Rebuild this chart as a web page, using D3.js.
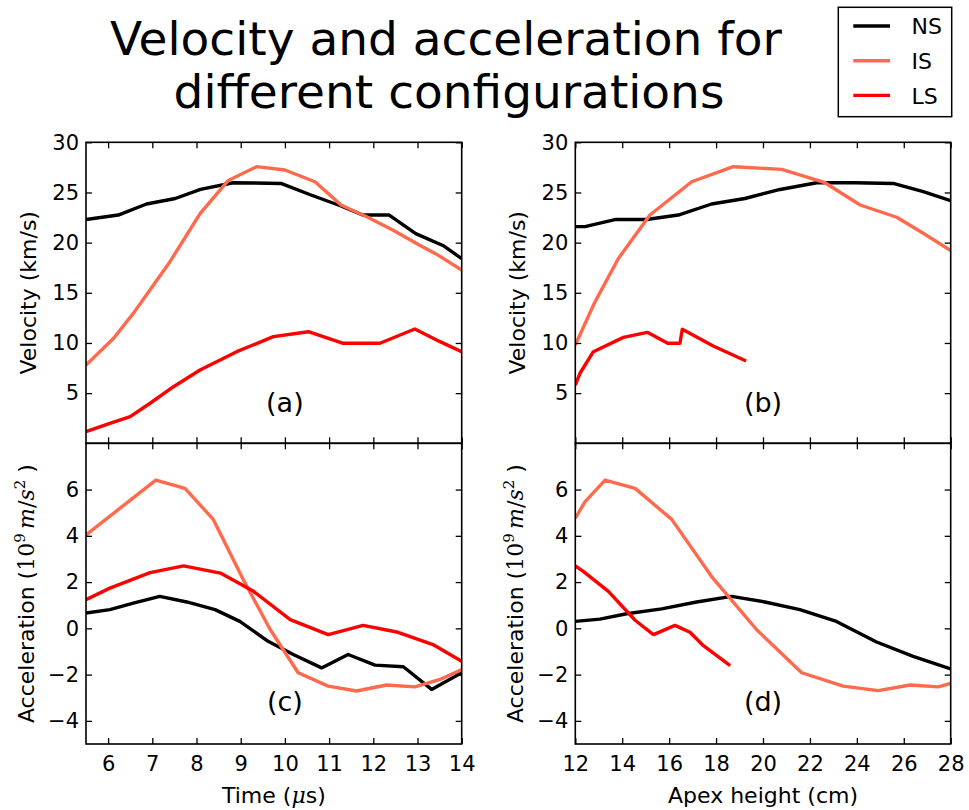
<!DOCTYPE html>
<html>
<head>
<meta charset="utf-8">
<script src="https://cdn.jsdelivr.net/npm/d3@7"></script>
<style>
  body { margin: 0; background: #fff; }
  svg { font-family: "DejaVu Sans", sans-serif; }
</style>
</head>
<body>
<div id="chart"></div>
<script>
// series names + colours
const seriesNames = ["NS", "IS", "LS"];
const seriesColors = ["#000000", "#ff6a4d", "#ff0000"];

// velocity vs time (us, km/s)
const nsVelTime = [[5.5,22.3],[6.23,22.75],[6.87,23.85],[7.52,24.4],[8.09,25.3],[8.83,25.97],[9.91,25.9],[10.59,24.75],[11.27,23.65],[11.76,22.75],[12.36,22.75],[12.96,20.9],[13.6,19.66],[14,18.4]];
const isVelTime = [[5.5,7.8],[6.12,10.45],[6.57,12.95],[6.95,15.3],[7.4,18.1],[8.08,22.9],[8.72,26.2],[9.36,27.57],[10.0,27.24],[10.68,26.07],[11.27,23.75],[11.84,22.6],[12.44,21.26],[13.04,19.76],[13.41,18.9],[14,17.27]];
const lsVelTime = [[5.5,1.16],[6.04,1.99],[6.5,2.65],[6.95,3.99],[7.48,5.64],[8.08,7.3],[8.91,9.13],[9.74,10.63],[10.53,11.12],[11.32,9.97],[12.15,9.97],[12.94,11.39],[13.51,10.13],[14,9.13]];

// velocity vs apex height (cm, km/s)
const nsVelHeight = [[12,21.6],[12.41,21.6],[13.69,22.3],[15.04,22.3],[16.39,22.75],[17.81,23.85],[19.23,24.4],[20.73,25.3],[22.29,25.97],[23.92,25.97],[25.55,25.9],[26.83,25.08],[28,24.18]];
const isVelHeight = [[12,9.8],[12.84,14.1],[13.83,18.4],[15.18,22.75],[16.96,26.07],[18.73,27.57],[20.8,27.3],[22.64,25.97],[24.14,23.75],[25.7,22.53],[26.83,20.93],[28,19.2]];
const lsVelHeight = [[12,5.81],[12.2,6.98],[12.77,9.13],[14.05,10.56],[15.07,11.06],[15.94,9.97],[16.46,9.97],[16.56,11.36],[17.88,9.7],[19.28,8.2]];

// acceleration vs time (10^9 m/s^2)
const nsAccTime = [[5.5,0.66],[6.04,0.81],[6.57,1.09],[7.17,1.38],[7.78,1.14],[8.42,0.81],[8.98,0.3],[9.62,-0.56],[10.19,-1.13],[10.83,-1.71],[11.43,-1.13],[12.04,-1.59],[12.68,-1.66],[13.32,-2.64],[14,-1.92]];
const isAccTime = [[5.5,4.04],[7.08,6.41],[7.74,6.05],[8.38,4.71],[9.06,2.1],[9.67,-0.06],[10.3,-1.92],[10.98,-2.5],[11.62,-2.71],[12.3,-2.45],[12.94,-2.53],[13.51,-2.21],[14,-1.78]];
const lsAccTime = [[5.5,1.24],[6.04,1.74],[6.95,2.41],[7.71,2.7],[8.54,2.39],[9.29,1.6],[10.12,0.38],[10.98,-0.27],[11.77,0.13],[12.56,-0.17],[13.35,-0.7],[14,-1.42]];

// acceleration vs apex height
const nsAccHeight = [[12,0.3],[13.05,0.4],[14.19,0.63],[15.68,0.84],[17.17,1.14],[18.66,1.38],[20.08,1.14],[21.57,0.81],[23.13,0.3],[24.84,-0.59],[26.4,-1.21],[28,-1.75]];
const isAccHeight = [[12,4.76],[12.41,5.47],[13.27,6.41],[14.55,6.05],[16.11,4.71],[17.81,2.24],[19.73,-0.06],[21.65,-1.92],[23.42,-2.5],[24.91,-2.69],[26.27,-2.45],[27.47,-2.53],[28,-2.38]];
const lsAccHeight = [[12,2.7],[12.34,2.46],[13.41,1.6],[14.55,0.35],[15.33,-0.27],[16.25,0.13],[16.89,-0.17],[17.46,-0.75],[18.6,-1.61]];

// tick values
const timeTicks = [6, 7, 8, 9, 10, 11, 12, 13, 14];
const heightTicks = [12, 14, 16, 18, 20, 22, 24, 26, 28];
const velTicks = [5, 10, 15, 20, 25, 30];
const accTicks = [-4, -2, 0, 2, 4, 6];

const width = 969, height = 810;
const tickSize = 6;

const svg = d3.select("#chart").append("svg")
    .attr("width", width)
    .attr("height", height);

// title
const title = svg.append("text")
    .attr("text-anchor", "middle")
    .attr("font-size", 47)
    .attr("fill", "#000");
title.append("tspan").attr("x", 446).attr("y", 55).text("Velocity and acceleration for");
title.append("tspan").attr("x", 449).attr("y", 108).text("different configurations");

const cols = [[86, 461.7], [575.3, 950.7]];
const rows = [[142.3, 443.3], [443.3, 744]];

const panels = [
  { id: "a", col: 0, row: 0, xDomain: [5.5, 14], yDomain: [0, 30], xTicks: timeTicks, yTicks: velTicks,
    series: [nsVelTime, isVelTime, lsVelTime], label: "(a)", labelAt: [10, 3.15], yLabel: "vel" },
  { id: "b", col: 1, row: 0, xDomain: [12, 28], yDomain: [0, 30], xTicks: heightTicks, yTicks: velTicks,
    series: [nsVelHeight, isVelHeight, lsVelHeight], label: "(b)", labelAt: [20, 3.15], yLabel: "vel" },
  { id: "c", col: 0, row: 1, xDomain: [5.5, 14], yDomain: [-5, 8], xTicks: timeTicks, yTicks: accTicks,
    series: [nsAccTime, isAccTime, lsAccTime], label: "(c)", labelAt: [10, -3.58], yLabel: "acc", xLabel: "time" },
  { id: "d", col: 1, row: 1, xDomain: [12, 28], yDomain: [-5, 8], xTicks: heightTicks, yTicks: accTicks,
    series: [nsAccHeight, isAccHeight, lsAccHeight], label: "(d)", labelAt: [20, -3.58], yLabel: "acc", xLabel: "height" }
];

panels.forEach(p => {
  const [x0, x1] = cols[p.col];
  const [y0, y1] = rows[p.row];
  const x = d3.scaleLinear().domain(p.xDomain).range([x0, x1]);
  const y = d3.scaleLinear().domain(p.yDomain).range([y1, y0]);
  const g = svg.append("g");

  g.append("clipPath").attr("id", "clip-" + p.id)
    .append("rect").attr("x", x0).attr("y", y0).attr("width", x1 - x0).attr("height", y1 - y0);

  const line = d3.line().x(d => x(d[0])).y(d => y(d[1]));
  g.append("g").attr("clip-path", `url(#clip-${p.id})`)
    .selectAll("path")
    .data(p.series)
    .join("path")
      .attr("d", line)
      .attr("fill", "none")
      .attr("stroke", (d, i) => seriesColors[i])
      .attr("stroke-width", 3.4)
      .attr("stroke-linejoin", "round");

  // axes, ticks pointing inward
  g.append("g").attr("transform", `translate(0,${y1})`)
    .call(d3.axisBottom(x).tickValues(p.xTicks).tickSize(-tickSize).tickPadding(12)
      .tickFormat(p.row === 1 ? d3.format("d") : ""));
  g.append("g").attr("transform", `translate(0,${y0})`)
    .call(d3.axisTop(x).tickValues(p.xTicks).tickSize(-tickSize).tickFormat(""));
  g.append("g").attr("transform", `translate(${x0},0)`)
    .call(d3.axisLeft(y).tickValues(p.yTicks).tickSize(-tickSize).tickPadding(7).tickFormat(d3.format("d")));
  g.append("g").attr("transform", `translate(${x1},0)`)
    .call(d3.axisRight(y).tickValues(p.yTicks).tickSize(-tickSize).tickFormat(""));

  g.selectAll(".domain").remove();
  g.selectAll(".tick line").attr("stroke", "#000").attr("stroke-width", 1.3);
  g.selectAll(".tick text").attr("font-size", 21).attr("fill", "#000")
    .attr("font-family", "DejaVu Sans, sans-serif");

  g.append("rect")
    .attr("x", x0).attr("y", y0)
    .attr("width", x1 - x0).attr("height", y1 - y0)
    .attr("fill", "none")
    .attr("stroke", "#000")
    .attr("stroke-width", 1.6);

  g.append("text")
    .attr("x", x(p.labelAt[0]))
    .attr("y", y(p.labelAt[1]))
    .attr("text-anchor", "middle")
    .attr("font-size", 27)
    .text(p.label);

  // y axis label
  const cy = (y0 + y1) / 2;
  if (p.yLabel === "vel") {
    g.append("text")
      .attr("transform", `translate(${x0 - 50},${cy}) rotate(-90)`)
      .attr("text-anchor", "middle")
      .attr("font-size", 22)
      .text("Velocity (km/s)");
  } else {
    const t = g.append("text")
      .attr("transform", `translate(${x0 - 52.5},${cy}) rotate(-90)`)
      .attr("text-anchor", "middle")
      .attr("font-size", 22);
    t.append("tspan").text("Acceleration (");
    t.append("tspan").attr("font-family", "DejaVu Serif, serif").text("10");
    t.append("tspan").attr("font-family", "DejaVu Serif, serif").attr("font-size", 15).attr("dy", -9).text("9");
    t.append("tspan").attr("font-family", "DejaVu Serif, serif").attr("font-style", "italic").attr("dy", 9).text("\u2009m");
    t.append("tspan").attr("font-family", "DejaVu Serif, serif").text("/");
    t.append("tspan").attr("font-family", "DejaVu Serif, serif").attr("font-style", "italic").text("s");
    t.append("tspan").attr("font-family", "DejaVu Serif, serif").attr("font-size", 15).attr("dy", -9).text("2");
    t.append("tspan").attr("dy", 9).text(" )");
  }

  // x axis label
  if (p.xLabel === "time") {
    const t = g.append("text")
      .attr("x", (x0 + x1) / 2).attr("y", 803)
      .attr("text-anchor", "middle")
      .attr("font-size", 22);
    t.append("tspan").text("Time (");
    t.append("tspan").attr("font-family", "DejaVu Serif, serif").attr("font-style", "italic").text("\u03bc");
    t.append("tspan").text("s)");
  } else if (p.xLabel === "height") {
    g.append("text")
      .attr("x", (x0 + x1) / 2).attr("y", 803)
      .attr("text-anchor", "middle")
      .attr("font-size", 22)
      .text("Apex height (cm)");
  }
});

// legend
const legend = svg.append("g");
legend.append("rect")
    .attr("x", 838.3).attr("y", 7.3)
    .attr("width", 113.4).attr("height", 109.4)
    .attr("fill", "#fff")
    .attr("stroke", "#000")
    .attr("stroke-width", 1.5);

const items = legend.selectAll("g.item")
  .data(seriesNames)
  .join("g")
    .attr("class", "item")
    .attr("transform", (d, i) => `translate(0,${26 + i * 34.7})`);
items.append("line")
    .attr("x1", 853.3).attr("x2", 890)
    .attr("stroke", (d, i) => seriesColors[i])
    .attr("stroke-width", 3.4);
items.append("text")
    .attr("x", 911.5).attr("y", 8.3)
    .attr("font-size", 22)
    .text(d => d);
</script>
</body>
</html>
